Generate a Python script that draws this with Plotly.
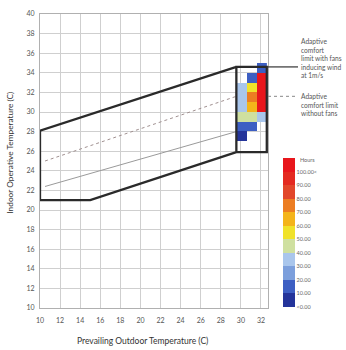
import plotly.graph_objects as go

# ---- data ----
x_ticks = list(range(10, 33, 2))
y_ticks = list(range(10, 41, 2))

# outer comfort polygon (with fans) + right box
fan_x = [29.55, 10, 10, 15, 29.55, 29.55, 32.58, 32.58, 29.55]
fan_y = [34.6, 28.1, 21.0, 21.0, 25.9, 34.6, 34.6, 25.9, 25.9]

# adaptive limit without fans (dotted) and thin reference line
nofan_x = [10.5, 29.55]
nofan_y = [25.0, 31.6]
thin_x = [10.5, 29.55]
thin_y = [22.4, 28.0]

# heat map of hours
cell_x = [30.1, 31.1, 32.1]
cell_y = [27.5, 28.5, 29.5, 30.5, 31.5, 32.5, 33.5, 34.5]
hours_30 = [5, 16, 42, 36, 35, 33, None, None]
hours_31 = [None, 13, 47, 66, 74, 55, 15, None]
hours_32 = [None, None, 35, 105, 105, 105, 105, 17]

cb_vals = [0, 10, 20, 30, 40, 50, 60, 70, 80, 90, 100]
cb_text = ["<0.00", "10.00", "20.00", "30.00", "40.00", "50.00",
           "60.00", "70.00", "80.00", "90.00", "100.00<"]

band_colors = ["#24349a", "#3d5fc3", "#7c9fdc", "#a9c6ec", "#cfe0a0",
               "#f0e22a", "#f4b41a", "#ec7d22", "#e2472a", "#e42a20", "#e8161c"]

z = [[hours_30[i], hours_31[i], hours_32[i]] for i in range(len(cell_y))]

n = len(band_colors)
cscale = []
for i, c in enumerate(band_colors):
    cscale.append([i / n, c])
    cscale.append([(i + 1) / n, c])

FONT = "Lato"
fig = go.Figure()

fig.add_trace(go.Scatter(x=thin_x, y=thin_y, mode="lines",
                         line=dict(color="#9a9a9a", width=1), hoverinfo="skip"))
fig.add_trace(go.Scatter(x=nofan_x, y=nofan_y, mode="lines",
                         line=dict(color="#a09090", width=1, dash="dot"), hoverinfo="skip"))

fig.add_trace(go.Heatmap(
    x=cell_x, y=cell_y, z=z, zmin=0, zmax=110, colorscale=cscale,
    colorbar=dict(
        x=(283 - 40) / 228, xanchor="left", xpad=0, xref="paper",
        y=(308 - 307) / 299, yanchor="bottom", ypad=0,
        len=(307 - 155) / 299, lenmode="fraction", thickness=12,
        outlinewidth=0, tickvals=cb_vals, ticktext=cb_text, ticks="",
        tickfont=dict(size=5.5, color="#666", family=FONT),
    ),
    hoverinfo="skip",
))

fig.add_trace(go.Scatter(x=fan_x, y=fan_y, mode="lines",
                         line=dict(color="#2a2a2a", width=2.3), hoverinfo="skip"))

# extension lines to the side labels
fig.add_shape(type="line", xref="paper", yref="y", x0=1.0, x1=(298 - 40) / 228,
              y0=fan_y[5], y1=fan_y[5], line=dict(color="#333", width=1.2))
fig.add_shape(type="line", xref="paper", yref="y", x0=1.0, x1=(298 - 40) / 228,
              y0=nofan_y[1], y1=nofan_y[1], line=dict(color="#888", width=1, dash="dot"))

fig.add_annotation(xref="paper", yref="paper", x=(299 - 40) / 228, y=(308 - 30) / 299,
                   xanchor="left", yanchor="top", align="left", showarrow=False,
                   text="Adaptive<br>comfort<br>limit with fans<br>inducing wind<br>at 1m/s",
                   font=dict(size=6.6, color="#555", family=FONT))
fig.add_annotation(xref="paper", yref="paper", x=(299 - 40) / 228, y=(308 - 86) / 299,
                   xanchor="left", yanchor="top", align="left", showarrow=False,
                   text="Adaptive<br>comfort limit<br>without fans",
                   font=dict(size=6.6, color="#555", family=FONT))
fig.add_annotation(xref="paper", yref="paper", x=(298 - 40) / 228, y=(308 - 157) / 299,
                   xanchor="left", yanchor="middle", showarrow=False, text="Hours",
                   font=dict(size=5.5, color="#666", family=FONT))

fig.add_annotation(xref="paper", yref="paper", x=(142 - 40) / 228, y=(308 - 342) / 299,
                   xanchor="center", yanchor="middle", showarrow=False,
                   text="Prevailing Outdoor Temperature (C)",
                   font=dict(size=8.5, color="#333", family=FONT))
fig.add_annotation(xref="paper", yref="paper", x=(10 - 40) / 228, y=(308 - 150) / 299,
                   xanchor="center", yanchor="middle", showarrow=False, textangle=-90,
                   text="Indoor Operative Temperature (C)",
                   font=dict(size=8.3, color="#333", family=FONT))

axis_common = dict(showgrid=True, gridcolor="#cfcfcf", gridwidth=1, zeroline=False,
                   showline=True, linecolor="#b0b0b0", linewidth=1, mirror=True,
                   ticks="", tickfont=dict(size=7, color="#555", family=FONT))
fig.update_xaxes(range=[10, 32.7], tickvals=x_ticks, ticklabelstandoff=6, **axis_common)
fig.update_yaxes(range=[10, 40], tickvals=y_ticks, ticklabelstandoff=3, **axis_common)

fig.update_layout(width=346, height=350, showlegend=False,
                  margin=dict(l=40, r=78, t=9, b=42),
                  paper_bgcolor="white", plot_bgcolor="white",
                  font=dict(family=FONT))
fig.write_html("out.html")
